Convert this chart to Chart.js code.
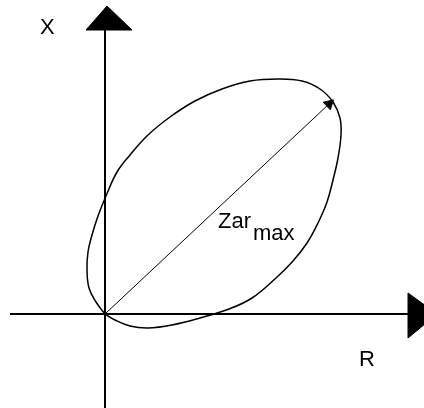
<!DOCTYPE html>
<html>
<head>
<meta charset="utf-8">
<script src="https://cdn.jsdelivr.net/npm/chart.js@4.4.1/dist/chart.umd.min.js"></script>
<style>
  html, body { margin: 0; padding: 0; background: #fff; }
  #wrap { width: 424px; height: 408px; position: relative; }
</style>
</head>
<body>
<div id="wrap"><canvas id="chart"></canvas></div>
<script>
// impedance locus, R (horizontal) vs X (vertical)
const ellipseR = [0, -9, -16, -18, -17, -13, -7, 1, 12, 25, 43, 65, 90, 117, 145, 173, 197, 215, 228, 235, 236, 233, 228, 222, 213, 202, 188, 171, 147, 124, 95, 67, 43, 25, 10, 0];
const ellipseX = [0, 12, 26, 44, 62, 79, 98, 118, 142, 159, 179, 197, 213, 225, 233, 235, 233, 225, 212, 196, 179, 156, 134, 112, 91, 71, 53, 36, 16, 5, -4, -11, -14, -12, -6, 0];

// Zar max vector: origin to far end of the locus
const zarR = [0, 224];
const zarX = [0, 210];

// axes and their arrowheads
const axisR = [-95, 303];
const axisX = [284, -100];
const upHeadR = [-19, 2, 27, -19];
const upHeadX = [284, 308, 284, 284];
const rightHeadR = [303, 332, 303, 303];
const rightHeadX = [21, 0, -24, 21];

const labels = ['X', 'R'];
const labelR = [-65, 254];
const labelX = [280, -52];

const toPts = (xs, ys) => xs.map((v, i) => ({ x: v, y: ys[i] }));

const textPlugin = {
    id: 'texts',
    afterDatasetsDraw(chart) {
        const ctx = chart.ctx;
        const sx = chart.scales.x, sy = chart.scales.y;
        ctx.save();
        ctx.fillStyle = '#000';
        ctx.font = '22px "Liberation Sans", Arial, sans-serif';
        ctx.textBaseline = 'alphabetic';
        labels.forEach((t, i) => {
            ctx.fillText(t, sx.getPixelForValue(labelR[i]), sy.getPixelForValue(labelX[i]));
        });
        // Zar with subscript max
        const zx = sx.getPixelForValue(113), zy = sy.getPixelForValue(86);
        ctx.fillText('Zar', zx, zy);
        const w = ctx.measureText('Zar').width;
        ctx.fillText('max', zx + w + 2, zy + 12);
        ctx.restore();
    }
};

new Chart(document.getElementById('chart'), {
    type: 'scatter',
    data: {
        datasets: [
            { data: toPts(axisR, [0, 0]), showLine: true, borderColor: '#000', borderWidth: 2, pointRadius: 0 },
            { data: toPts([0, 0], axisX), showLine: true, borderColor: '#000', borderWidth: 2, pointRadius: 0 },
            { data: toPts(upHeadR, upHeadX), showLine: true, borderColor: '#000', borderWidth: 1, backgroundColor: '#000', fill: 'shape', pointRadius: 0 },
            { data: toPts(rightHeadR, rightHeadX), showLine: true, borderColor: '#000', borderWidth: 1, backgroundColor: '#000', fill: 'shape', pointRadius: 0 },
            { data: toPts(ellipseR, ellipseX), showLine: true, borderColor: '#000', borderWidth: 1.5, tension: 0.4, pointRadius: 0 },
            {
                data: toPts(zarR, zarX), showLine: true, borderColor: '#000', borderWidth: 1,
                pointRadius: [0, 6], pointStyle: 'triangle', rotation: 47,
                pointBackgroundColor: '#000', pointBorderColor: '#000'
            }
        ]
    },
    options: {
        responsive: true,
        maintainAspectRatio: false,
        animation: false,
        layout: { padding: 0, autoPadding: false },
        plugins: { legend: { display: false }, tooltip: { enabled: false } },
        scales: {
            x: { type: 'linear', min: -105, max: 319, display: false },
            y: { type: 'linear', min: -94, max: 314, display: false }
        }
    },
    plugins: [textPlugin]
});
</script>
</body>
</html>
